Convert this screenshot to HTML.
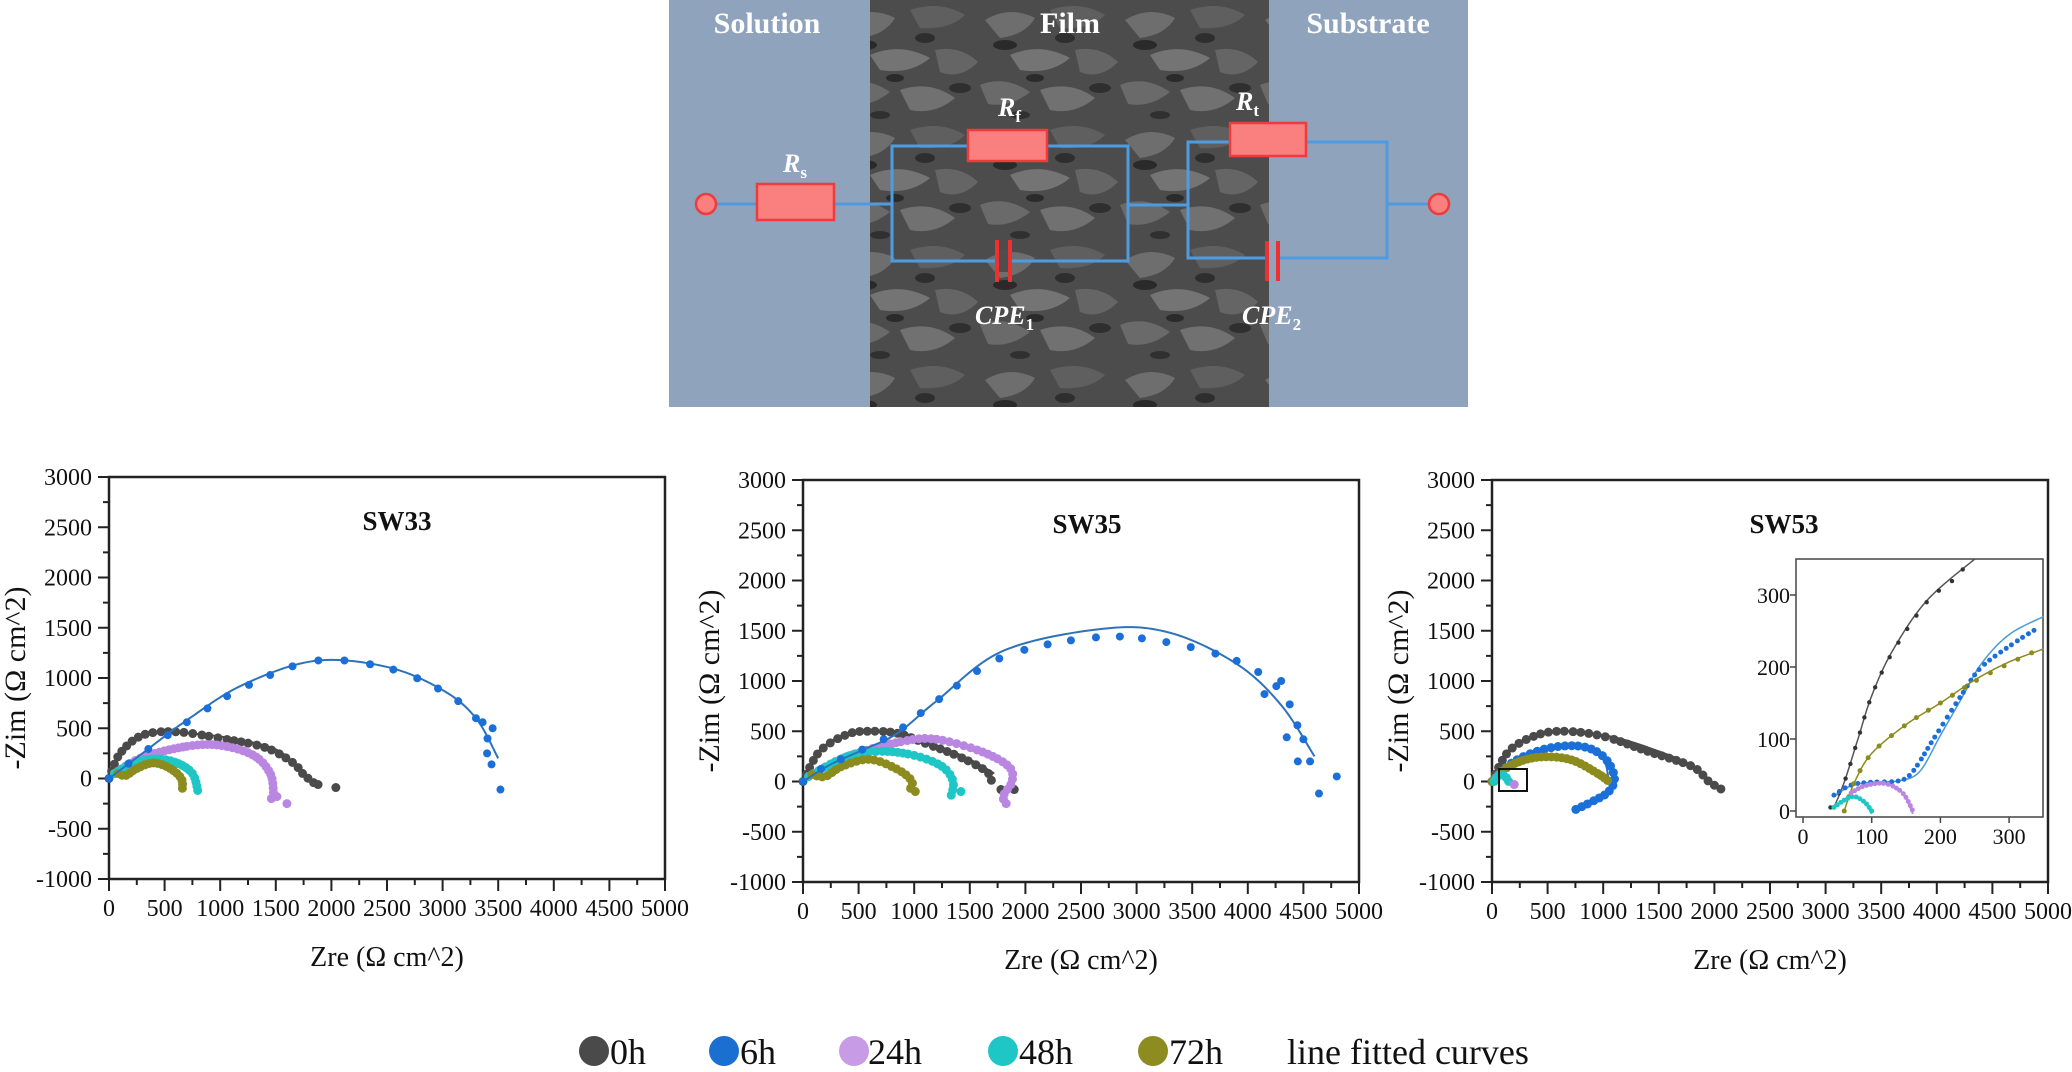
<!DOCTYPE html>
<html><head><meta charset="utf-8">
<style>
html,body{margin:0;padding:0;background:#fff;}
svg{display:block;}
text{font-family:"Liberation Serif",serif;}
</style></head>
<body>
<svg id="s" width="2072" height="1072" viewBox="0 0 2072 1072" xmlns="http://www.w3.org/2000/svg">
<defs>
<pattern id="sem" width="140" height="120" patternUnits="userSpaceOnUse">
<rect width="140" height="120" fill="#4c4c4c"/>
<path d="M5 20 Q30 5 55 18 Q45 35 20 38 Z" fill="#6e6e6e"/>
<path d="M70 10 Q100 0 125 15 Q110 30 80 28 Z" fill="#5f5f5f"/>
<path d="M30 55 Q60 42 90 58 Q70 75 40 70 Z" fill="#747474"/>
<path d="M95 50 Q120 45 138 62 Q120 80 100 72 Z" fill="#656565"/>
<path d="M0 85 Q25 75 50 92 Q30 108 8 104 Z" fill="#6a6a6a"/>
<path d="M60 90 Q90 80 115 98 Q95 115 70 110 Z" fill="#717171"/>
<ellipse cx="25" cy="45" rx="12" ry="5" fill="#2a2a2a"/>
<ellipse cx="85" cy="38" rx="10" ry="5" fill="#2e2e2e"/>
<ellipse cx="55" cy="78" rx="9" ry="4" fill="#2b2b2b"/>
<ellipse cx="120" cy="88" rx="11" ry="5" fill="#2f2f2f"/>
<ellipse cx="40" cy="115" rx="10" ry="4" fill="#303030"/>
</pattern>
</defs>
<!-- diagram -->
<rect x="669" y="0" width="201" height="407" fill="#8fa3bd"/>
<rect x="870" y="0" width="399" height="407" fill="url(#sem)"/>
<rect x="1269" y="0" width="199" height="407" fill="#8fa3bd"/>
<g fill="#fff" font-weight="bold" font-size="30" text-anchor="middle">
<text x="767" y="33">Solution</text><text x="1070" y="33">Film</text><text x="1368" y="33">Substrate</text>
</g>
<g stroke="#4f9be0" stroke-width="3" fill="none">
<line x1="716" y1="204" x2="757" y2="204"/>
<line x1="834" y1="204" x2="892" y2="204"/>
<rect x="892" y="146" width="236" height="115"/>
<line x1="1128" y1="205" x2="1188" y2="205"/>
<rect x="1188" y="142" width="199" height="116"/>
<line x1="1387" y1="204" x2="1430" y2="204"/>
</g>
<g fill="#fa8080" stroke="#ee3b3b" stroke-width="2.5">
<circle cx="706" cy="204" r="10"/>
<circle cx="1439" cy="204" r="10"/>
<rect x="757" y="184" width="77" height="36"/>
<rect x="968" y="130" width="79" height="31"/>
<rect x="1230" y="123" width="76" height="33"/>
</g>
<g stroke="none"><rect x="998" y="250" width="11" height="22" fill="#4e4e4e"/><rect x="1268" y="248" width="10" height="22" fill="#8fa3bd"/></g>
<g stroke="#ee3030" stroke-width="4">
<line x1="997" y1="240" x2="997" y2="282"/><line x1="1010" y1="240" x2="1010" y2="282"/>
<line x1="1267" y1="241" x2="1267" y2="281"/><line x1="1278" y1="241" x2="1278" y2="281"/>
</g>
<g fill="#fff" font-weight="bold" font-style="italic" font-size="26">
<text x="783" y="172">R<tspan font-size="17" font-style="normal" dy="6">s</tspan></text>
<text x="998" y="116">R<tspan font-size="17" font-style="normal" dy="6">f</tspan></text>
<text x="1236" y="110">R<tspan font-size="17" font-style="normal" dy="6">t</tspan></text>
<text x="975" y="324">CPE<tspan font-size="17" font-style="normal" dy="6">1</tspan></text>
<text x="1242" y="324">CPE<tspan font-size="17" font-style="normal" dy="6">2</tspan></text>
</g>
<g id="charts"></g>
<!-- legend -->
<g font-size="36" fill="#111">
<circle cx="594" cy="1051" r="15" fill="#4a4a4a"/><text x="610" y="1064">0h</text>
<circle cx="724" cy="1051" r="15" fill="#1a6fd0"/><text x="740" y="1064">6h</text>
<circle cx="854" cy="1051" r="15" fill="#c79be6"/><text x="868" y="1064">24h</text>
<circle cx="1003" cy="1051" r="15" fill="#1ec6c6"/><text x="1019" y="1064">48h</text>
<circle cx="1153" cy="1051" r="15" fill="#8c8c20"/><text x="1169" y="1064">72h</text>
<text x="1287" y="1064">line fitted curves</text>
</g>
</svg>
<script>
var NS="http://www.w3.org/2000/svg",G=document.getElementById('charts');
function el(t,a,p){var e=document.createElementNS(NS,t);for(var k in a)e.setAttribute(k,a[k]);(p||G).appendChild(e);return e;}
function txt(s,a){var e=el('text',a);e.textContent=s;return e;}
function cr(pts){var out=[];if(pts.length<2)return pts;for(var i=0;i<pts.length-1;i++){var p0=pts[Math.max(i-1,0)],p1=pts[i],p2=pts[i+1],p3=pts[Math.min(i+2,pts.length-1)];for(var j=0;j<20;j++){var t=j/20,t2=t*t,t3=t2*t;out.push([0.5*((2*p1[0])+(-p0[0]+p2[0])*t+(2*p0[0]-5*p1[0]+4*p2[0]-p3[0])*t2+(-p0[0]+3*p1[0]-3*p2[0]+p3[0])*t3),0.5*((2*p1[1])+(-p0[1]+p2[1])*t+(2*p0[1]-5*p1[1]+4*p2[1]-p3[1])*t2+(-p0[1]+3*p1[1]-3*p2[1]+p3[1])*t3)]);}}out.push(pts[pts.length-1]);return out;}
function chart(ox,top,title,tx,ser,inset){
 var sx=556/5000,sy=402/4000,y0=top+3000*sy,bot=top+402;
 function X(v){return ox+v*sx;}function Y(v){return y0-v*sy;}
 el('rect',{x:ox,y:top,width:556,height:402,fill:'none',stroke:'#222','stroke-width':2.5});
 for(var v=-1000;v<=3000;v+=250){var yy=Y(v),maj=v%500==0;el('line',{x1:ox-(maj?11:6),y1:yy,x2:ox,y2:yy,stroke:'#222','stroke-width':2});if(maj)txt(String(v),{x:ox-17,y:yy+8,'font-size':24,'text-anchor':'end',fill:'#111'});}
 for(var v=0;v<=5000;v+=250){var xx=X(v),maj=v%500==0;el('line',{x1:xx,y1:bot,x2:xx,y2:bot+(maj?12:6),stroke:'#222','stroke-width':2});if(maj)txt(String(v),{x:xx,y:bot+37,'font-size':24,'text-anchor':'middle',fill:'#111'});}
 txt('Zre (\u03a9 cm^2)',{x:ox+278,y:bot+87,'font-size':28,'text-anchor':'middle',fill:'#111'});
 txt('-Zim (\u03a9 cm^2)',{x:0,y:0,'font-size':30,'text-anchor':'middle',fill:'#111',transform:'translate('+(ox-84)+','+(top+201)+') rotate(-90)'});
 txt(title,{x:tx,y:top+53,'font-size':27,'font-weight':'bold','text-anchor':'middle',fill:'#111'});
 ser.forEach(function(s){draw(s,X,Y);});
 if(inset)inset(X,Y);
}
function draw(s,X,Y){
 var P=s.p.map(function(q){return[X(q[0]),Y(q[1])];});
 var L=cr(P);
 if(s.fit){var F=cr(s.fit.map(function(q){return[X(q[0]),Y(q[1])];}));el('polyline',{points:F.map(function(q){return q.join(',')}).join(' '),fill:'none',stroke:s.lc,'stroke-width':s.lw||2});}
 var acc=s.sp,prev=null;
 L.forEach(function(q){if(prev){acc+=Math.hypot(q[0]-prev[0],q[1]-prev[1]);}if(acc>=s.sp){el('circle',{cx:q[0],cy:q[1],r:s.r,fill:s.c});acc=0;}prev=q;});
 (s.extra||[]).forEach(function(q){el('circle',{cx:X(q[0]),cy:Y(q[1]),r:s.r,fill:s.c});});
}
var DK='#4a4a4a',BL='#1a6fd8',PU='#b987e2',CY='#1ec6c6',OL='#8c8c1e',BLL='#2e72b8';
chart(109,477,'SW33',397,[
 {p:[[0,0],[100,250],[300,430],[600,465],[1000,400],[1400,310],[1650,160],[1750,40],[1850,-50]],fit:[[0,0],[120,270],[350,440],[700,450],[1100,400],[1500,290],[1700,110]],lc:DK,c:DK,r:4.5,sp:7,extra:[[1880,-60],[2040,-90]]},
 {p:[[50,50],[300,210],[700,320],[1000,330],[1300,230],[1450,50],[1480,-150]],fit:[[50,50],[300,220],[700,330],[1000,330],[1300,220],[1450,40]],lc:PU,c:PU,r:4.5,sp:4,extra:[[1460,-200],[1510,-180],[1600,-250]]},
 {p:[[50,50],[200,140],[400,195],[600,160],[750,50],[800,-130]],lc:CY,c:CY,r:4.5,sp:4},
 {p:[[80,50],[150,30],[250,100],[400,155],[550,100],[650,0],[660,-100]],lc:OL,c:OL,r:4.5,sp:4},
 {p:[[0,0],[300,250],[700,560],[1200,900],[1850,1170],[2500,1100],[3000,870],[3300,600],[3470,230]],fit:[[0,0],[300,250],[700,580],[1200,930],[1850,1170],[2500,1110],[3000,880],[3300,600],[3500,200]],lc:BLL,lw:2,c:BL,r:4,sp:23,extra:[[3440,140],[3520,-110],[3450,500],[3360,560],[3400,250]]}
]);
chart(803,480,'SW35',1087,[
 {p:[[0,0],[150,300],[400,470],[600,500],[850,480],[1100,380],[1400,250],[1650,100],[1700,-20]],fit:[[0,0],[150,310],[400,480],[650,500],[900,470],[1200,360],[1500,220],[1720,80]],lc:DK,c:DK,r:4.5,sp:7,extra:[[1780,-80],[1900,-80]]},
 {p:[[50,50],[400,250],[900,400],[1200,420],[1600,300],[1850,150],[1880,0],[1800,-150],[1850,-250]],fit:[[50,50],[400,260],[900,410],[1200,420],[1600,300],[1860,120]],lc:PU,c:PU,r:4.5,sp:5},
 {p:[[50,50],[400,250],[700,300],[1000,260],[1250,150],[1350,0],[1330,-150]],lc:CY,c:CY,r:4.5,sp:5,extra:[[1420,-100]]},
 {p:[[80,70],[200,50],[350,150],[600,220],[850,120],[980,0],[950,-100]],lc:OL,c:OL,r:4.5,sp:5,extra:[[1010,-100]]},
 {p:[[0,0],[200,150],[500,300],[850,500],[1200,800],[1800,1240],[2600,1430],[3200,1400],[3900,1200],[4300,900],[4450,550]],fit:[[0,0],[250,170],[550,320],[850,480],[1200,800],[1800,1300],[2700,1520],[3300,1480],[3900,1170],[4300,760],[4600,250]],lc:BLL,c:BL,r:4,sp:22,extra:[[4300,1000],[4150,870],[4350,440],[4500,420],[4450,200],[4560,200],[4640,-120],[4800,50]]}
],function(X,Y){});
chart(1492,480,'SW53',1784,[
 {p:[[0,0],[150,300],[400,460],[650,500],[1000,450],[1400,300],[1800,150],[1950,0],[2100,-100]],fit:[[0,0],[150,310],[400,470],[700,500],[1100,440],[1500,300],[1800,160],[1960,0]],lc:DK,c:DK,r:4.5,sp:7},
 {p:[[0,0],[200,200],[500,330],[800,350],[1000,250],[1100,50],[1050,-100],[900,-200],[750,-280]],fit:[[0,0],[200,200],[500,320],[800,340],[1000,220],[1050,0]],lc:BLL,c:BL,r:4.5,sp:6},
 {p:[[0,0],[150,150],[400,240],[700,220],[950,80],[1050,0]],fit:[[0,0],[150,150],[400,240],[700,220],[950,80],[1050,0]],lc:OL,c:OL,r:4.5,sp:4},
 {p:[[20,0],[60,60],[110,60],[150,0]],lc:CY,c:CY,r:4.5,sp:4},
 {p:[[200,-30],[230,-50]],lc:PU,c:PU,r:4.5,sp:4}
],function(X,Y){
 el('rect',{x:1499,y:769,width:28,height:22,fill:'none',stroke:'#111','stroke-width':2});
 el('rect',{x:1796,y:559,width:247,height:258,fill:'#fff',stroke:'#444','stroke-width':1.5});
 var ix0=1803,iy0=811,ksx=0.687,ksy=0.72;
 function IX(v){return ix0+v*ksx;}function IY(v){return iy0-v*ksy;}
 [0,100,200,300].forEach(function(v){txt(String(v),{x:IX(v),y:844,'font-size':22,'text-anchor':'middle',fill:'#111'});el('line',{x1:IX(v),y1:817,x2:IX(v),y2:823,stroke:'#444','stroke-width':1.5});txt(String(v),{x:1790,y:IY(v)+8,'font-size':22,'text-anchor':'end',fill:'#111'});el('line',{x1:1796,y1:IY(v),x2:1790,y2:IY(v),stroke:'#444','stroke-width':1.5});});
 var ser=[
  {p:[[40,5],[60,40],[80,100],[100,160],[130,220],[180,290],[220,322],[240,345]],fit:[[45,5],[60,40],[80,100],[100,160],[130,222],[180,292],[250,350]],lc:'#555',c:'#333',r:2.2,sp:15,lw:1.5},
  {p:[[45,22],[70,36],[100,40],[140,42],[160,55],[190,100],[230,160],[260,200],[310,235],[340,253]],fit:[[45,20],[70,35],[100,40],[140,42],[170,55],[200,105],[230,155],[260,205],[300,245],[350,270]],lc:'#4a9ad8',c:BL,r:2.5,sp:6,lw:1.5},
  {p:[[60,0],[75,40],[100,80],[150,120],[200,150],[250,180],[300,205],[345,225]],fit:[[60,0],[75,40],[100,80],[150,120],[200,150],[250,182],[300,207],[350,225]],lc:'#8c8c1e',c:OL,r:2.5,sp:14,lw:1.5},
  {p:[[45,5],[60,15],[75,20],[90,12],[100,0]],fit:[[45,5],[60,15],[75,20],[90,12],[100,-4]],lc:CY,c:CY,r:2.5,sp:4,lw:2},
  {p:[[70,25],[90,35],[120,38],[145,25],[160,0]],fit:[[70,25],[90,35],[120,38],[145,25],[160,-4]],lc:PU,c:PU,r:2.5,sp:4,lw:2}
 ];
 ser.forEach(function(s){draw(s,IX,IY);});
});
</script>
</body></html>
